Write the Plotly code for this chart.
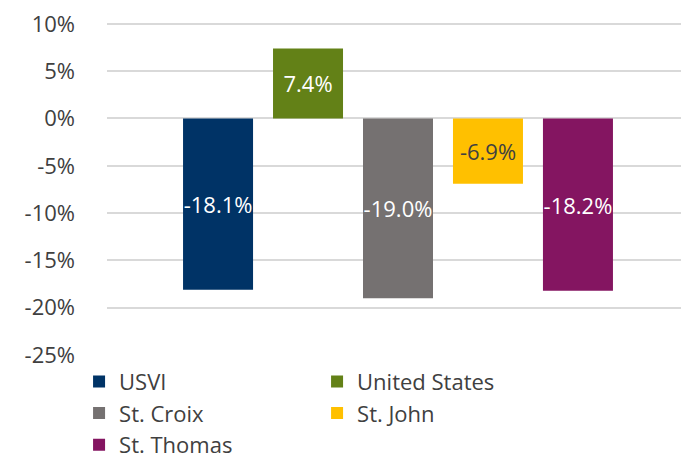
import plotly.graph_objects as go

series = ["USVI", "United States", "St. Croix", "St. John", "St. Thomas"]
values = [-18.1, 7.4, -19.0, -6.9, -18.2]
colors = ["#003366", "#638117", "#757171", "#FFC000", "#841561"]
label_colors = ["white", "white", "white", "#404040", "white"]
tick_vals = [10, 5, 0, -5, -10, -15, -20, -25]
tick_text = ["10%", "5%", "0%", "-5%", "-10%", "-15%", "-20%", "-25%"]

FONT = "Open Sans, Noto Sans, sans-serif"

fig = go.Figure()
for name, v, c, lc in zip(series, values, colors, label_colors):
    fig.add_trace(go.Bar(
        x=[""], y=[v], name=name,
        marker=dict(color=c, line=dict(width=0)),
        text=[f"{v:.1f}%"], textposition="inside", insidetextanchor="middle",
        textangle=0,
        textfont=dict(color=lc, size=22, family=FONT),
        cliponaxis=False,
    ))

# page body has an 8px default margin; figure is sized to fill the 689x462 window
fig.update_layout(
    width=681, height=454,
    margin=dict(l=99, r=0, t=14, b=107, autoexpand=False),
    barmode="group", bargap=0.227, bargroupgap=0.222,
    paper_bgcolor="white", plot_bgcolor="white",
    uniformtext=dict(minsize=22, mode="show"),
    font=dict(family=FONT, color="#404040", size=22),
    xaxis=dict(showticklabels=False, showgrid=False, zeroline=False, showline=False,
               automargin=False),
    yaxis=dict(range=[-25, 10.2], tickvals=tick_vals, ticktext=tick_text,
               showgrid=True, gridcolor="#D9D9D9", gridwidth=2,
               zeroline=True, zerolinecolor="#D9D9D9", zerolinewidth=2,
               showline=False, ticks="", ticklabelstandoff=31, automargin=False,
               ticklabeloverflow="allow",
               tickfont=dict(size=22, color="#404040", family=FONT)),
    legend=dict(orientation="h", x=-0.048, xanchor="left", y=-0.017, yanchor="top",
                entrywidth=193, entrywidthmode="pixels",
                font=dict(size=22, color="#404040", family=FONT),
                bgcolor="rgba(0,0,0,0)", traceorder="normal"),
    showlegend=True,
)

fig.write_html("out.html")
